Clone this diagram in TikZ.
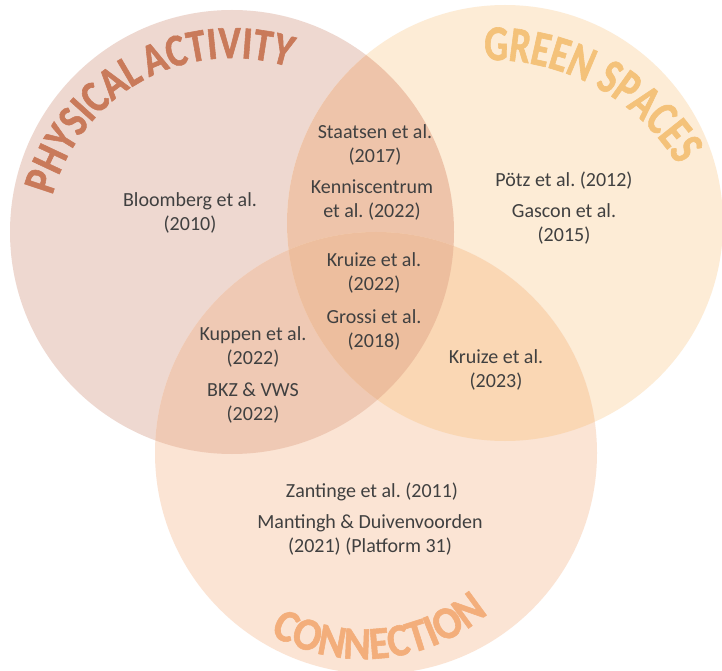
\documentclass[tikz,border=0pt]{standalone}
\usepackage{fontspec}
\setmainfont{Carlito}
\newfontfamily\pafont[FakeStretch=0.83, WordSpace=0.6, FakeBold=1.2]{Carlito}
\newfontfamily\gsfont[FakeStretch=0.75, FakeBold=1.2]{Carlito}
\newfontfamily\cnfont[FakeStretch=0.9, FakeBold=1.2]{Carlito}
\usetikzlibrary{decorations.text}

\definecolor{paonly}{HTML}{EED8D0}
\definecolor{gsonly}{HTML}{FDECD6}
\definecolor{cnonly}{HTML}{FBE4D4}
\definecolor{pags}{HTML}{EEC4AA}
\definecolor{pacn}{HTML}{EFC9B4}
\definecolor{gscn}{HTML}{FAD7B4}
\definecolor{allthree}{HTML}{EDBE9E}
\definecolor{patitle}{HTML}{C97A5A}
\definecolor{gstitle}{HTML}{F4C27A}
\definecolor{cntitle}{HTML}{F3AE7B}
\definecolor{bodytext}{HTML}{404040}

\tikzset{
  ref/.style={font=\fontsize{20}{24}\selectfont\frenchspacing, text=bodytext, align=center, inner sep=0pt},
}

\def\rpa{222}
\def\rgs{218}
\def\rcn{221}

\begin{document}
\begin{tikzpicture}[x=1pt,y=1pt]
\useasboundingbox (0,0) rectangle (722,670);
\fill[white] (0,0) rectangle (722,670);

% circle centres
\coordinate (pa) at (232,438);
\coordinate (gs) at (505,447);
\coordinate (cn) at (376,217);

% single regions
\fill[paonly] (pa) circle[radius=\rpa];
\fill[gsonly] (gs) circle[radius=\rgs];
\fill[cnonly] (cn) circle[radius=\rcn];

% pairwise overlaps
\begin{scope}
  \clip (pa) circle[radius=\rpa];
  \fill[pags] (gs) circle[radius=\rgs];
  \fill[pacn] (cn) circle[radius=\rcn];
\end{scope}
\begin{scope}
  \clip (gs) circle[radius=\rgs];
  \fill[gscn] (cn) circle[radius=\rcn];
\end{scope}

% centre overlap
\begin{scope}
  \clip (pa) circle[radius=\rpa];
  \clip (gs) circle[radius=\rgs];
  \fill[allthree] (cn) circle[radius=\rcn];
\end{scope}

% curved titles
\coordinate (paarc) at (232,426);
\coordinate (gsarc) at (490,390);
\coordinate (cnarc) at (364,203);

\path[decorate, decoration={text along path, text align=center,
  text={|\pafont\bfseries\fontsize{46}{46}\selectfont\color{patitle}|PHYSICAL ACTIVITY}}]
  ([shift={(198.5:186)}]paarc) arc[start angle=198.5, end angle=38.5, radius=186];

\path[decorate, decoration={text along path, text align=center,
  text={|\gsfont\bfseries\fontsize{50}{50}\selectfont\color{gstitle}|GREEN SPACES}}]
  ([shift={(141.5:220)}]gsarc) arc[start angle=141.5, end angle=-18.5, radius=220];

\path[decorate, decoration={text along path, text align=center,
  text={|\cnfont\bfseries\fontsize{46}{46}\selectfont\color{cntitle}|CONNECTION}}]
  ([shift={(-154.5:192)}]cnarc) arc[start angle=-154.5, end angle=-14.5, radius=192];

% references
\node[ref] (bloomberg) at (190,457.5) {Bloomberg et al.\\(2010)};
\node[ref] (staatsen) at (375,525) {Staatsen et al.\\(2017)};
\node[ref] (kennis) at (372,469.5) {Kenniscentrum\\et al. (2022)};
\node[ref] (kruizeA) at (374,397) {Kruize et al.\\(2022)};
\node[ref] (grossi) at (374,340) {Grossi et al.\\(2018)};
\node[ref] (kuppen) at (253,323.5) {Kuppen et al.\\(2022)};
\node[ref] (bkz) at (253,266.5) {BKZ \& VWS\\(2022)};
\node[ref] (potz) at (564,489) {Pötz et al. (2012)};
\node[ref] (gascon) at (564,446) {Gascon et al.\\(2015)};
\node[ref] (kruizeB) at (496,300) {Kruize et al.\\(2023)};
\node[ref] (zantinge) at (372,178) {Zantinge et al. (2011)};
\node[ref] (mantingh) at (370,135) {Mantingh \& Duivenvoorden\\(2021) (Platform 31)};
\end{tikzpicture}
\end{document}
